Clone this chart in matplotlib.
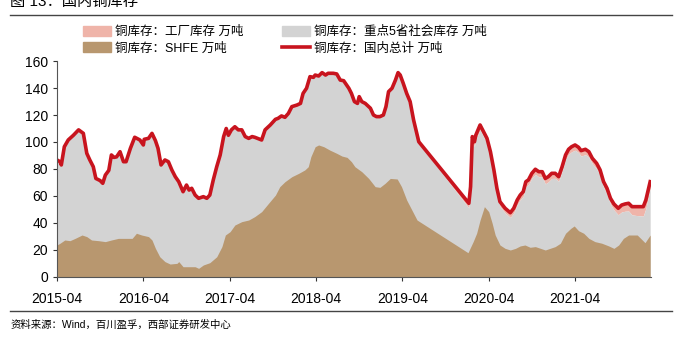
import numpy as np
import matplotlib
matplotlib.use("Agg")
import matplotlib.pyplot as plt
from matplotlib.patches import Patch
from matplotlib.lines import Line2D

plt.rcParams['font.family'] = ['Liberation Sans', 'Noto Sans CJK SC', 'DejaVu Sans']

# total domestic copper inventory (10k t), x in decimal years
total_x = [2015.25, 2015.285, 2015.30, 2015.335, 2015.38, 2015.44, 2015.50, 2015.555, 2015.595,
           2015.63, 2015.67, 2015.70, 2015.75, 2015.78, 2015.81, 2015.85, 2015.88, 2015.91,
           2015.94, 2015.98, 2016.02, 2016.05, 2016.10, 2016.15, 2016.21, 2016.25, 2016.26,
           2016.31, 2016.35, 2016.39, 2016.42, 2016.455, 2016.50, 2016.54, 2016.58, 2016.62,
           2016.66, 2016.71, 2016.75, 2016.78, 2016.81, 2016.85, 2016.89, 2016.945, 2016.985,
           2017.02, 2017.06, 2017.10, 2017.14, 2017.18, 2017.21, 2017.235, 2017.27, 2017.31,
           2017.35, 2017.39, 2017.43, 2017.47, 2017.51, 2017.54, 2017.62, 2017.66, 2017.72,
           2017.78, 2017.81, 2017.85, 2017.89, 2017.93, 2017.97, 2018.03, 2018.07, 2018.10,
           2018.14, 2018.18, 2018.22, 2018.24, 2018.28, 2018.32, 2018.36, 2018.39, 2018.45,
           2018.49, 2018.53, 2018.57, 2018.63, 2018.66, 2018.695, 2018.73, 2018.75, 2018.78,
           2018.82, 2018.88, 2018.915, 2018.95, 2018.99, 2019.03, 2019.06, 2019.09, 2019.13,
           2019.17, 2019.20, 2019.225, 2019.26, 2019.30, 2019.34, 2019.38, 2019.44, 2020.02,
           2020.04, 2020.06, 2020.085, 2020.10, 2020.15, 2020.19, 2020.23, 2020.27, 2020.31,
           2020.345, 2020.38, 2020.44, 2020.50, 2020.54, 2020.58, 2020.615, 2020.65, 2020.68,
           2020.71, 2020.75, 2020.79, 2020.83, 2020.87, 2020.905, 2020.94, 2020.98, 2021.02,
           2021.06, 2021.10, 2021.14, 2021.175, 2021.21, 2021.25, 2021.29, 2021.32, 2021.37,
           2021.41, 2021.45, 2021.50, 2021.54, 2021.58, 2021.62, 2021.66, 2021.70, 2021.75,
           2021.79, 2021.83, 2021.87, 2021.91, 2021.97, 2022.04, 2022.07, 2022.12]
total_y = [86.7, 85.4, 83.0, 96.5, 101.5, 105.0, 109.0, 106.4, 91.6,
           86.7, 81.7, 73.0, 71.4, 69.4, 75.5, 79.0, 90.4, 88.6,
           89.0, 92.8, 85.4, 85.4, 95.3, 103.5, 101.5, 97.8, 102.0,
           102.7, 106.4, 101.0, 95.3, 83.0, 86.7, 85.4, 79.3, 74.3,
           70.6, 63.2, 68.1, 64.4, 65.7, 60.7, 58.3, 59.5, 58.3,
           60.7, 71.9, 81.7, 90.4, 104.0, 110.0, 105.0, 109.0, 111.3,
           109.0, 109.0, 104.0, 102.7, 104.0, 103.5, 101.5, 109.0, 112.6,
           116.8, 117.5, 119.3, 118.3, 121.2, 126.2, 127.4, 128.6, 136.0,
           139.8, 148.4, 147.9, 149.6, 148.9, 151.4, 149.6, 150.9, 150.9,
           150.4, 145.9, 145.4, 139.8, 136.0, 129.9, 128.6, 133.6, 129.9,
           128.6, 125.0, 120.0, 118.8, 118.8, 120.0, 126.2, 137.3, 139.8,
           145.9, 151.4, 149.6, 143.5, 136.0, 129.9, 116.3, 100.2, 54.6,
           66.9, 104.0, 100.2, 105.0, 112.6, 107.6, 102.7, 92.8, 79.3,
           65.7, 55.8, 50.9, 47.6, 50.9, 57.0, 60.7, 63.2, 70.6,
           71.9, 76.8, 79.8, 78.0, 78.0, 73.0, 74.3, 76.8, 76.8,
           74.3, 81.7, 90.4, 94.6, 96.5, 97.8, 96.1, 93.6, 94.6,
           92.8, 87.9, 84.2, 79.3, 70.6, 65.7, 58.3, 54.1, 50.9,
           53.3, 54.1, 54.6, 52.1, 52.1, 52.1, 57.0, 70.6]

# factory inventory (10k t), only reported from mid-2019
factory_x = [2015.25, 2019.40, 2019.44, 2019.86, 2020.02, 2020.15, 2020.30, 2020.50, 2020.70,
             2020.90, 2021.10, 2021.30, 2021.50, 2021.70, 2021.85, 2021.95, 2022.04, 2022.12]
factory_y = [0.0, 0.0, 1.0, 2.0, 3.5, 3.5, 3.5, 3.5, 3.5,
             4.0, 3.5, 4.0, 4.0, 4.5, 5.5, 6.5, 7.0, 5.0]

# SHFE copper inventory (10k t)
shfe_x = [2015.25, 2015.285, 2015.34, 2015.40, 2015.46, 2015.54, 2015.595, 2015.65, 2015.73,
          2015.81, 2015.88, 2015.96, 2016.04, 2016.12, 2016.17, 2016.23, 2016.31, 2016.35,
          2016.39, 2016.44, 2016.50, 2016.56, 2016.64, 2016.66, 2016.71, 2016.79, 2016.85,
          2016.89, 2016.945, 2017.02, 2017.10, 2017.16, 2017.20, 2017.255, 2017.31, 2017.39,
          2017.47, 2017.54, 2017.62, 2017.70, 2017.78, 2017.83, 2017.89, 2017.97, 2018.05,
          2018.12, 2018.16, 2018.19, 2018.24, 2018.28, 2018.34, 2018.41, 2018.49, 2018.55,
          2018.61, 2018.66, 2018.70, 2018.78, 2018.86, 2018.935, 2018.99, 2019.05, 2019.11,
          2019.19, 2019.24, 2019.30, 2019.36, 2019.42, 2020.01, 2020.07, 2020.11, 2020.15,
          2020.20, 2020.25, 2020.29, 2020.325, 2020.38, 2020.44, 2020.50, 2020.56, 2020.615,
          2020.67, 2020.73, 2020.79, 2020.85, 2020.905, 2020.96, 2021.02, 2021.08, 2021.14,
          2021.20, 2021.24, 2021.29, 2021.35, 2021.41, 2021.48, 2021.56, 2021.64, 2021.70,
          2021.755, 2021.81, 2021.87, 2021.97, 2022.01, 2022.06, 2022.12]
shfe_y = [23.7, 25.0, 27.4, 26.9, 28.6, 31.1, 29.9, 27.4, 26.9,
          26.2, 27.4, 28.6, 28.6, 28.6, 32.4, 31.1, 29.9, 27.4,
          21.2, 15.0, 11.4, 9.6, 10.1, 11.4, 7.6, 7.6, 7.6,
          6.4, 8.9, 10.6, 15.0, 22.5, 31.1, 33.6, 38.5, 41.0,
          42.2, 44.7, 48.4, 54.6, 60.7, 66.9, 70.6, 74.3, 76.8,
          79.3, 81.7, 89.1, 96.5, 97.8, 96.5, 94.0, 91.6, 89.6,
          88.6, 85.4, 81.7, 78.0, 73.0, 66.9, 66.4, 69.4, 73.0,
          72.6, 66.9, 57.0, 49.6, 42.2, 18.0, 26.2, 32.4, 42.2,
          52.1, 48.4, 39.8, 31.1, 23.7, 21.2, 20.0, 21.2, 23.0,
          23.7, 22.0, 22.5, 21.2, 20.0, 21.2, 22.5, 25.0, 32.4,
          36.0, 37.8, 34.3, 32.4, 28.6, 26.2, 25.0, 23.0, 21.2,
          23.7, 28.6, 31.1, 31.1, 28.6, 25.4, 31.1]

tick_labels = ['2015-04', '2016-04', '2017-04', '2018-04', '2019-04', '2020-04', '2021-04']
tick_pos = [2015.25 + i for i in range(len(tick_labels))]

total = np.array(total_y)
fac = np.interp(total_x, factory_x, factory_y)
social_top = total - fac

fig = plt.figure(figsize=(6.81, 3.5), dpi=100)
ax = fig.add_axes([0.0837, 0.2086, 0.8723, 0.6171])

ax.fill_between(total_x, social_top, total, color='#efb4a9', lw=0)
ax.fill_between(total_x, 0, social_top, color='#d3d3d3', lw=0)
ax.fill_between(shfe_x, 0, shfe_y, color='#b8976f', lw=0)
ax.plot(total_x, total, color='#c8141e', lw=2.6, solid_joinstyle='round')

ax.set_xlim(2015.25, 2022.13)
ax.set_ylim(0, 160)
ax.set_yticks(range(0, 161, 20))
ax.set_xticks(tick_pos)
ax.set_xticklabels(tick_labels)
ax.tick_params(axis='both', labelsize=10, colors='#333333', labelcolor='black', length=3)
ax.tick_params(axis='x', pad=8)
for s in ['top', 'right']:
    ax.spines[s].set_visible(False)
for s in ['left', 'bottom']:
    ax.spines[s].set_color('#555555')
    ax.spines[s].set_linewidth(0.8)

handles = [Patch(color='#efb4a9'), Patch(color='#b8976f'),
           Patch(color='#d3d3d3'), Line2D([], [], color='#c8141e', lw=2.6)]
labels = ['铜库存：工厂库存 万吨', '铜库存：SHFE 万吨',
          '铜库存：重点5省社会库存 万吨', '铜库存：国内总计 万吨']
fig.legend(handles, labels, ncol=2, loc='upper left', bbox_to_anchor=(0.122, 0.926),
           frameon=False, fontsize=9, handlelength=2.2, handleheight=0.8,
           handletextpad=0.35, columnspacing=3.1, labelspacing=0.35,
           borderaxespad=0, borderpad=0)

fig.text(0.015, 0.995, '图 13：国内铜库存', fontsize=11, va='center', ha='left')
fig.add_artist(Line2D([0.015, 0.987], [0.957, 0.957], color='#444444', lw=1))
fig.add_artist(Line2D([0.015, 0.987], [0.111, 0.111], color='#444444', lw=1))
fig.text(0.015, 0.072, '资料来源：Wind，百川盈孚，西部证券研发中心', fontsize=7.5, va='center', ha='left')

fig.savefig('out.png', dpi=100)
